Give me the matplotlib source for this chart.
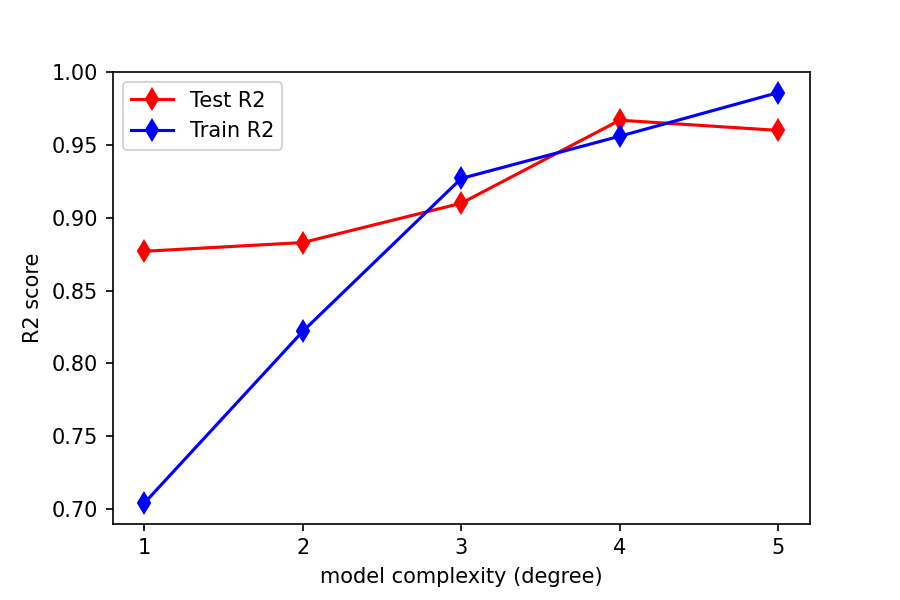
import matplotlib
matplotlib.use("Agg")
import matplotlib.pyplot as plt

degrees = [1, 2, 3, 4, 5]
test_r2 = [0.877, 0.883, 0.910, 0.967, 0.960]
train_r2 = [0.704, 0.822, 0.927, 0.956, 0.986]

fig, ax = plt.subplots(figsize=(6, 4), dpi=150)
fig.subplots_adjust(bottom=0.127, top=0.88, left=0.125, right=0.9)
ax.plot(degrees, test_r2, color='red', marker='d', markersize=7, label='Test R2')
ax.plot(degrees, train_r2, color='blue', marker='d', markersize=7, label='Train R2')
ax.set_xlabel('model complexity (degree)')
ax.set_ylabel('R2 score')
ax.set_xticks(degrees)
ax.legend(loc='upper left')
fig.savefig('out.png', dpi=150)
